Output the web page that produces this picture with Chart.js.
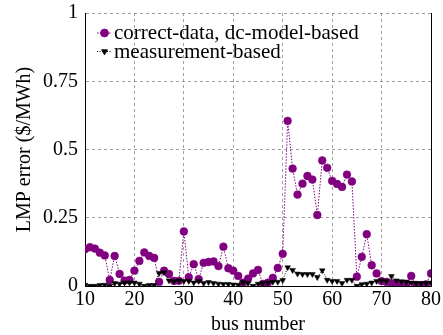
<!DOCTYPE html>
<html><head><meta charset="utf-8">
<script src="https://cdn.jsdelivr.net/npm/chart.js@4/dist/chart.umd.min.js"></script>
<style>html,body{margin:0;padding:0;background:#fff}#wrap{width:443px;height:335px;position:relative}</style>
</head><body><div id="wrap"><canvas id="c" width="443" height="335"></canvas></div>
<script>
const buses = [];
for (let b = 10; b <= 80; b++) buses.push(b);
const dcModelBased = [
  0.135,0.142,0.137,0.122,0.112,0.022,0.110,0.044,0.020,0.022,
  0.056,0.092,0.123,0.110,0.103,0.015,0.056,0.044,0.019,0.019,
  0.200,0.032,0.080,0.025,0.085,0.088,0.090,0.073,0.144,0.065,
  0.056,0.037,0.012,0.027,0.046,0.059,0.008,0.012,0.030,0.066,
  0.118,0.605,0.430,0.335,0.375,0.403,0.390,0.260,0.460,0.433,
  0.385,0.374,0.363,0.408,0.383,0.034,0.107,0.190,0.076,0.046,
  0.018,0.015,0.010,0.008,0.006,0.008,0.037,0.004,0.003,0.006,
  0.046
];
const measurementBased = [
  0.004,0.000,0.000,0.003,0.004,0.000,0.010,0.008,0.012,0.012,
  0.012,0.008,0.000,0.003,0.003,0.047,0.050,0.020,0.017,0.020,
  0.018,0.018,0.012,0.018,0.010,0.014,0.010,0.008,0.007,0.007,
  0.005,0.004,0.014,0.010,0.000,0.008,0.010,0.012,0.015,0.015,
  0.021,0.068,0.058,0.045,0.043,0.043,0.043,0.032,0.057,0.022,
  0.018,0.018,0.010,0.022,0.022,0.000,0.006,0.008,0.012,0.018,
  0.020,0.018,0.036,0.020,0.017,0.015,0.012,0.010,0.010,0.010,
  0.012
];
const seriesNames = ['correct-data, dc-model-based', 'measurement-based'];
const xTicks = [10,20,30,40,50,60,70,80];
const yTicks = [0,0.25,0.5,0.75,1];
const xTitle = 'bus number';
const yTitle = 'LMP error ($/MWh)';

const PURPLE = '#800080';
const FONT = "'Liberation Serif', 'DejaVu Serif', serif";
Chart.defaults.font.family = FONT;

const legendPlugin = {
  id: 'customLegend',
  afterDatasetsDraw(chart) {
    const ctx = chart.ctx;
    const ca = chart.chartArea;
    ctx.save();
    ctx.strokeStyle = '#000'; ctx.lineWidth = 1; ctx.setLineDash([]);
    ctx.beginPath(); ctx.moveTo(Math.round(ca.right)+0.5, ca.top); ctx.lineTo(Math.round(ca.right)+0.5, ca.bottom); ctx.stroke();
    const items = [
      {color: PURPLE, dash: [1.5,1.5], style: 'circle', r: 3.9, rot: 0},
      {color: '#000', dash: [1,1.5], style: 'triangle', r: 3.3, rot: 180}
    ];
    const x0 = ca.left + 12, y0 = ca.top + 20, dy = 18.5;
    items.forEach((it, i) => {
      const y = y0 + i*dy;
      ctx.strokeStyle = it.color; ctx.lineWidth = 1; ctx.setLineDash(it.dash);
      ctx.beginPath(); ctx.moveTo(x0, y); ctx.lineTo(x0+15, y); ctx.stroke();
      ctx.setLineDash([]);
      ctx.fillStyle = it.color; ctx.strokeStyle = it.color;
      Chart.helpers.drawPoint(ctx, {pointStyle: it.style, radius: it.r, rotation: it.rot, borderWidth: 0.5}, x0+7.5, y);
      ctx.fillStyle = '#000';
      ctx.font = '21px ' + FONT;
      ctx.textBaseline = 'middle'; ctx.textAlign = 'left';
      ctx.fillText(seriesNames[i], x0+17, y+0.5);
    });
    ctx.restore();
  }
};

function build() {
new Chart(document.getElementById('c'), {
  type: 'line',
  data: {
    datasets: [
      {
        label: seriesNames[0],
        data: buses.map((b, i) => ({x: b, y: dcModelBased[i]})),
        borderColor: PURPLE, backgroundColor: PURPLE,
        borderWidth: 1, borderDash: [1.5,1.5],
        pointStyle: 'circle', pointRadius: 3.9, pointBorderWidth: 0.5,
        pointBackgroundColor: PURPLE, pointBorderColor: PURPLE,
        tension: 0, order: 2
      },
      {
        label: seriesNames[1],
        data: buses.map((b, i) => ({x: b, y: measurementBased[i]})),
        borderColor: '#000', backgroundColor: '#000',
        borderWidth: 1, borderDash: [1,1.5],
        pointStyle: 'triangle', pointRotation: 180, pointRadius: 3.3, pointBorderWidth: 0.5,
        pointBackgroundColor: '#000', pointBorderColor: '#000',
        tension: 0, order: 1
      }
    ]
  },
  options: {
    responsive: false, animation: false, maintainAspectRatio: false,
    layout: {padding: {left: 0, right: 11, top: 13, bottom: 0}},
    plugins: {legend: {display: false}, tooltip: {enabled: false}},
    scales: {
      x: {
        type: 'linear', min: 10, max: 80,
        afterBuildTicks: s => { s.ticks = xTicks.map(v => ({value: v})); },
        afterFit: s => { s.height = 49; },
        ticks: {color: '#000', padding: 2, maxRotation: 0, font: {family: FONT, size: 20}},
        grid: {color: '#888', lineWidth: 0.8, drawTicks: false},
        border: {display: true, color: '#000', width: 1, dash: [3,3]},
        title: {display: true, text: xTitle, color: '#000', font: {family: FONT, size: 20}, padding: {top: 0, bottom: -2}}
      },
      y: {
        type: 'linear', min: 0, max: 1,
        afterBuildTicks: s => { s.ticks = yTicks.map(v => ({value: v})); },
        afterFit: s => { s.width = 85; },
        ticks: {color: '#000', padding: 7, font: {family: FONT, size: 20, lineHeight: 0.5}, callback: v => String(v)},
        grid: {color: '#888', lineWidth: 0.8, drawTicks: false},
        border: {display: true, color: '#000', width: 1, dash: [3,3]},
        title: {display: true, text: yTitle, color: '#000', font: {family: FONT, size: 20}, padding: {top: 13, bottom: 0}}
      }
    }
  },
  plugins: [legendPlugin]
});
}
if (document.fonts && document.fonts.load) {
  document.fonts.load("20px 'Liberation Serif'").then(build, build);
} else { build(); }
</script></body></html>
